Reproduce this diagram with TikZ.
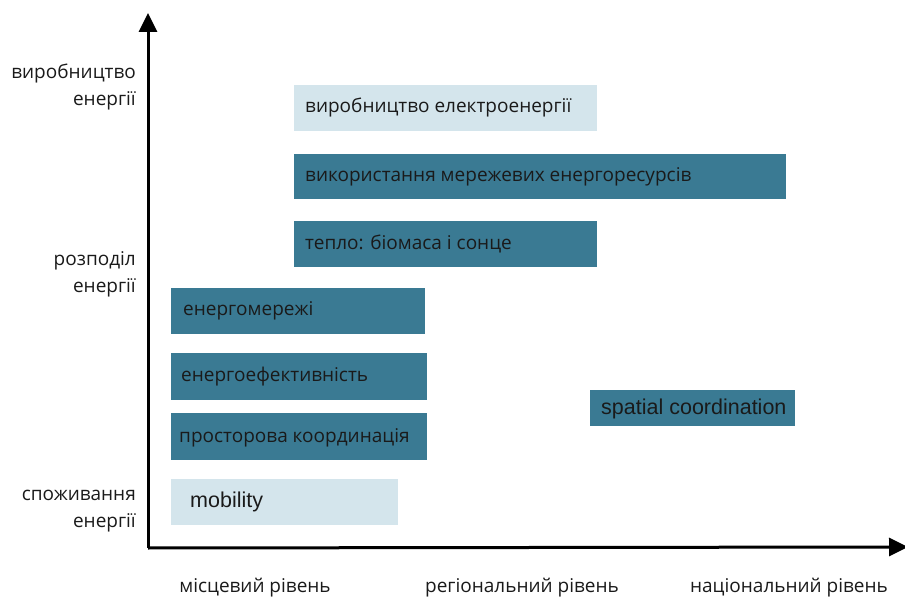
\documentclass[tikz,border=0pt]{standalone}
\usepackage{fontspec}
\setmainfont{Open Sans}
\newfontfamily\arialf{Liberation Sans}
\usetikzlibrary{arrows.meta}
\definecolor{teal1}{HTML}{3A7A93}
\definecolor{light1}{HTML}{D4E5EC}
\definecolor{txt}{HTML}{1A1A1A}
\tikzset{
  lbl/.style={font=\fontsize{19}{19}\selectfont, text=txt, anchor=west, inner sep=0pt},
  albl/.style={font=\arialf\fontsize{21.5}{21.5}\selectfont, text=txt, anchor=west, inner sep=0pt},
  axlbl/.style={font=\fontsize{19}{27}\selectfont, text=txt, align=right, anchor=east, inner sep=0pt},
  xlbl/.style={font=\fontsize{19}{19}\selectfont, text=txt, inner sep=0pt},
  axis/.style={line width=3pt, -{Triangle[length=19pt,width=18pt]}}
}
\begin{document}
\begin{tikzpicture}[x=1pt,y=-1pt]
\useasboundingbox (0,0) rectangle (905,601);
% bars
\fill[light1] (294,85) rectangle (597,131);
\fill[teal1] (294,154) rectangle (786,199);
\fill[teal1] (294,221) rectangle (597,267);
\fill[teal1] (171,288) rectangle (425,334);
\fill[teal1] (171,353) rectangle (427,400);
\fill[teal1] (171,413) rectangle (427,460);
\fill[teal1] (590,390) rectangle (795,426);
\fill[light1] (171,479) rectangle (398,525);
% labels
\node[lbl] (b1) at (305,108) {виробництво електроенергії};
\node[lbl] (b2) at (305,177) {використання мережевих енергоресурсів};
\node[lbl] (b3) at (305,244) {тепло: біомаса і сонце};
\node[lbl] (b4) at (183,311) {енергомережі};
\node[lbl] (b5) at (181,377) {енергоефективність};
\node[lbl] (b6) at (179,438) {просторова координація};
\node[albl] (b7) at (601,409) {spatial coordination};
\node[albl] (b8) at (190,502) {mobility};
% axes
\coordinate (o) at (148,548);
\coordinate (ytop) at (148,13);
\coordinate (xend) at (908,547);
\draw[axis] (o) -- (ytop);
\draw[axis] (o) -- (xend);
% axis labels
\node[axlbl] (y1) at (136,87) {виробництво\\енергії};
\node[axlbl] (y2) at (136,274) {розподіл\\енергії};
\node[axlbl] (y3) at (136,511) {споживання\\енергії};
\node[xlbl] (x1) at (255,588) {місцевий рівень};
\node[xlbl] (x2) at (522,588) {регіональний рівень};
\node[xlbl] (x3) at (789,588) {національний рівень};
\end{tikzpicture}
\end{document}
